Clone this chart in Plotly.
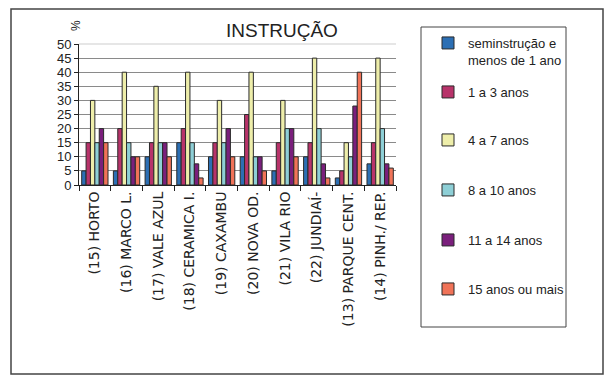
import plotly.graph_objects as go

# Bairros (categories) and share of population per schooling band, in %
bairros = ["(15) HORTO", "(16) MARCO L.", "(17) VALE AZUL", "(18) CERAMICA I.",
           "(19) CAXAMBU", "(20) NOVA OD.", "(21) VILA RIO", "(22) JUNDIAÍ-",
           "(13) PARQUE CENT.", "(14) PINH./ REP."]

sem_instrucao = [5, 5, 10, 15, 10, 10, 5, 10, 2.5, 7.5]
anos_1_3 = [15, 20, 15, 20, 15, 25, 15, 15, 5, 15]
anos_4_7 = [30, 40, 35, 40, 30, 40, 30, 45, 15, 45]
anos_8_10 = [15, 15, 15, 15, 15, 10, 20, 20, 10, 20]
anos_11_14 = [20, 10, 15, 7.5, 20, 10, 20, 7.5, 28, 7.5]
anos_15_mais = [15, 10, 10, 2.5, 10, 5, 10, 2.5, 40, 6]

series_names = ["seminstrução e<br>menos de 1 ano", "1 a 3 anos", "4 a 7 anos",
                "8 a 10 anos", "11 a 14 anos", "15 anos ou mais"]
series_values = [sem_instrucao, anos_1_3, anos_4_7, anos_8_10, anos_11_14, anos_15_mais]
series_colors = ["#2C6FB4", "#B8336A", "#EEEEAA", "#8ECFD6", "#7A1F7C", "#F07358"]

y_ticks = list(range(0, 51, 5))

W, H = 605, 381
L, R, T, B = 79, 396, 44, 185  # plot area in pixels

# vertical pixel centre of each legend entry (first text line)
legend_rows = [43, 92, 140, 190, 240, 289]


def px_x(x):
    return (x - L) / (R - L)


def px_y(y):
    return (B - y) / (B - T)


fig = go.Figure()
legend_layouts = {}
for i, (name, vals, col) in enumerate(zip(series_names, series_values, series_colors)):
    key = "legend" if i == 0 else f"legend{i + 1}"
    fig.add_trace(go.Bar(
        x=bairros, y=vals, name=name, legend=key,
        marker=dict(color=col, line=dict(color="#2a2a2a", width=1)),
    ))
    legend_layouts[key] = dict(
        x=px_x(428), y=px_y(legend_rows[i] - 15), xanchor="left", yanchor="top",
        xref="paper", yref="paper",
        font=dict(size=13, color="#222"),
        bgcolor="rgba(0,0,0,0)", borderwidth=0,
        valign="top", itemwidth=30,
    )

fig.update_layout(
    width=W, height=H,
    margin=dict(l=L, r=W - R, t=T, b=H - B, pad=0),
    paper_bgcolor="white", plot_bgcolor="white",
    barmode="group", bargap=0.17, bargroupgap=0,
    font=dict(family="Liberation Sans, Arial, sans-serif", color="#222"),
    showlegend=True,
    xaxis=dict(
        type="category", tickangle=-90, tickson="boundaries",
        ticks="outside", ticklen=5, tickcolor="#222",
        showline=True, linecolor="#222", linewidth=1,
        tickfont=dict(family="DejaVu Sans, sans-serif", size=14, color="#222"),
        showgrid=False,
    ),
    yaxis=dict(
        range=[0, 50], tickvals=y_ticks, ticktext=[str(v) for v in y_ticks],
        ticks="outside", ticklen=4, tickcolor="#222",
        showline=True, linecolor="#222", linewidth=1,
        showgrid=True, gridcolor="#8a8a8a", gridwidth=1,
        tickfont=dict(size=13, color="#222"), zeroline=False,
    ),
    shapes=[
        # outer frame of the chart
        dict(type="rect", xref="paper", yref="paper",
             x0=px_x(11), x1=px_x(603), y0=px_y(374), y1=px_y(9),
             line=dict(color="#444", width=1.5), fillcolor="rgba(0,0,0,0)"),
        # legend frame
        dict(type="rect", xref="paper", yref="paper",
             x0=px_x(421), x1=px_x(566), y0=px_y(327), y1=px_y(27),
             line=dict(color="#444", width=1), fillcolor="rgba(0,0,0,0)"),
        # light top edge of the plot area
        dict(type="line", xref="paper", yref="paper",
             x0=0, x1=1, y0=1, y1=1, layer="below",
             line=dict(color="#e6e6e6", width=2)),
    ],
    annotations=[
        dict(text="INSTRUÇÃO", xref="paper", yref="paper",
             x=px_x(282), y=px_y(31), xanchor="center", yanchor="middle",
             showarrow=False, font=dict(size=19, color="#222")),
        dict(text="%", xref="paper", yref="paper", textangle=-90,
             x=px_x(76), y=px_y(26), xanchor="center", yanchor="middle",
             showarrow=False, font=dict(size=12, color="#222")),
    ],
    **legend_layouts,
)

fig.write_html("out.html")
